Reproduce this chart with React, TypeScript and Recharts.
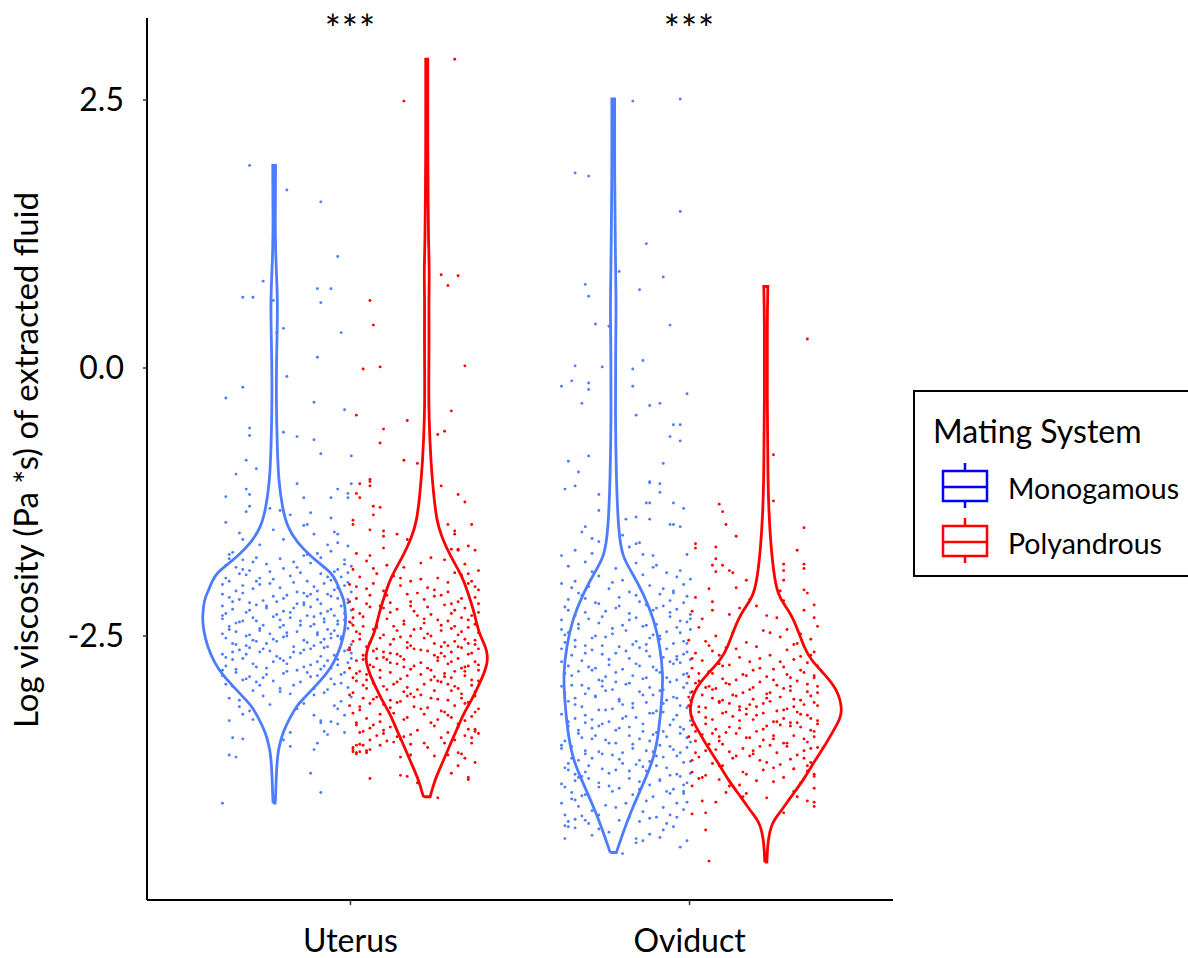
import { ComposedChart, Scatter, XAxis, YAxis, ReferenceDot } from 'recharts';

const categories = ['Uterus', 'Oviduct'];
const matingSystems = ['Monogamous', 'Polyandrous'];
const yTicks = [-2.5, 0, 2.5];
const significance = ['***', '***'];

// violin outlines: [value, half width]
const uterusMonoViolin = [
  [-4.06, 0.003], [-4.03, 0.004], [-3.72, 0.007], [-3.56, 0.012], [-3.40, 0.025], [-3.26, 0.047],
  [-3.16, 0.065], [-3.10, 0.082], [-3.00, 0.112], [-2.86, 0.153], [-2.75, 0.176], [-2.60, 0.197],
  [-2.44, 0.209], [-2.32, 0.212], [-2.16, 0.206], [-2.10, 0.197], [-1.98, 0.182], [-1.91, 0.168],
  [-1.84, 0.141], [-1.76, 0.109], [-1.63, 0.068], [-1.48, 0.038], [-1.30, 0.024], [-1.05, 0.013],
  [-0.74, 0.009], [-0.30, 0.006], [0.08, 0.007], [0.35, 0.009], [0.63, 0.010], [0.87, 0.007],
  [1.10, 0.004], [1.38, 0.003], [1.66, 0.004], [1.89, 0.004],
];
const uterusPolyViolin = [
  [-4.00, 0.010], [-3.84, 0.024], [-3.70, 0.044], [-3.54, 0.065], [-3.38, 0.088], [-3.22, 0.109],
  [-3.10, 0.132], [-3.00, 0.147], [-2.86, 0.168], [-2.75, 0.179], [-2.68, 0.179], [-2.60, 0.174],
  [-2.47, 0.153], [-2.29, 0.141], [-2.14, 0.126], [-1.98, 0.109], [-1.87, 0.091], [-1.76, 0.071],
  [-1.58, 0.044], [-1.42, 0.029], [-1.20, 0.021], [-0.89, 0.012], [-0.42, 0.006], [-0.11, 0.006],
  [0.26, 0.007], [0.63, 0.006], [0.89, 0.008], [1.19, 0.005], [1.57, 0.004], [2.03, 0.003],
  [2.50, 0.003], [2.88, 0.003],
];
const oviductMonoViolin = [
  [-4.52, 0.009], [-4.40, 0.022], [-4.15, 0.050], [-3.84, 0.094], [-3.63, 0.121], [-3.38, 0.135],
  [-3.07, 0.144], [-2.85, 0.147], [-2.60, 0.138], [-2.35, 0.121], [-2.10, 0.088], [-1.91, 0.056],
  [-1.76, 0.026], [-1.51, 0.015], [-1.04, 0.009], [-0.42, 0.006], [0.17, 0.007], [0.63, 0.009],
  [1.10, 0.006], [1.75, 0.004], [2.51, 0.004],
];
const oviductPolyViolin = [
  [-4.61, 0.003], [-4.40, 0.006], [-4.24, 0.018], [-4.15, 0.041], [-4.00, 0.074], [-3.84, 0.112],
  [-3.68, 0.141], [-3.54, 0.171], [-3.38, 0.200], [-3.28, 0.218], [-3.19, 0.226], [-3.00, 0.212],
  [-2.85, 0.171], [-2.72, 0.132], [-2.60, 0.112], [-2.44, 0.094], [-2.29, 0.074], [-2.14, 0.038],
  [-1.98, 0.026], [-1.67, 0.015], [-1.35, 0.009], [-1.04, 0.006], [-0.30, 0.004], [0.45, 0.004],
  [0.76, 0.006],
];

// jittered observations: [jitter, value]
const uterusMonoPoints = [
  [-0.11, 1.89], [0.00, 1.66], [0.10, 1.55], [0.15, 1.04], [-0.07, 0.81], [-0.13, 0.66], [-0.10, 0.66],
  [0.09, 0.74], [0.13, 0.74], [0.10, 0.61], [-0.04, 0.63], [-0.01, 0.37], [-0.03, 0.33], [0.16, 0.33],
  [0.09, 0.10], [0.00, -0.08], [-0.13, -0.18], [-0.18, -0.28], [0.08, -0.32], [0.17, -0.39],
  [-0.11, -0.56], [-0.11, -0.63], [-0.01, -0.60], [0.03, -0.64], [0.08, -0.67], [0.10, -0.80],
  [0.19, -0.82], [-0.12, -0.86], [-0.09, -0.94], [-0.15, -0.99], [-0.12, -1.13], [-0.11, -1.18],
  [-0.18, -1.20], [0.03, -1.08], [0.05, -1.21], [0.13, -1.21], [0.15, -1.13], [0.18, -1.21],
  [0.18, -1.17], [0.19, -1.08], [-0.11, -1.29], [-0.12, -1.34], [-0.18, -1.44], [-0.05, -1.31],
  [-0.02, -1.33], [0.01, -1.37], [0.07, -1.35], [0.05, -1.47], [0.06, -1.46], [0.13, -1.40],
  [0.14, -1.53], [0.15, -1.55], [-0.14, -1.54], [-0.13, -1.60], [-0.17, -1.74], [-0.04, -1.51],
  [-0.01, -1.60], [0.08, -1.55], [0.12, -1.65], [0.15, -1.63], [0.18, -1.66], [-0.08, -1.65],
  [-0.16, -1.72], [0.05, -1.75], [-0.02, -1.78], [0.13, -1.71], [-0.09, -1.77], [0.17, -1.79], [0.09, -1.73], [-0.13, -1.79],
  [0.02, -1.81], [-0.18, -1.84], [0.11, -1.86], [-0.06, -1.83], [0.15, -1.88], [-0.11, -1.89], [0.07, -1.82], [-0.01, -1.87], [0.19, -1.85], [-0.15, -1.86],
  [0.04, -1.91], [-0.12, -1.93], [0.16, -1.95], [-0.04, -1.97], [0.10, -1.92], [-0.17, -1.99], [0.01, -1.94], [0.13, -1.98], [-0.08, -1.96], [0.18, -1.91], [-0.14, -1.92], [0.06, -1.99],
  [-0.19, -2.02], [0.08, -2.04], [-0.05, -2.01], [0.14, -2.07], [-0.10, -2.06], [0.03, -2.09], [0.17, -2.03], [-0.15, -2.08], [0.11, -2.01], [-0.02, -2.05], [0.05, -2.10], [-0.13, -2.03], [0.19, -2.09],
  [0.00, -2.12], [-0.17, -2.14], [0.12, -2.11], [-0.07, -2.17], [0.15, -2.15], [-0.11, -2.19], [0.06, -2.13], [-0.03, -2.18], [0.09, -2.16], [-0.19, -2.11], [0.18, -2.19], [-0.14, -2.16], [0.03, -2.20], [0.13, -2.13],
  [-0.09, -2.21], [0.07, -2.23], [-0.16, -2.25], [0.16, -2.22], [-0.01, -2.27], [0.10, -2.29], [-0.12, -2.28], [0.02, -2.24], [0.19, -2.26], [-0.06, -2.22], [0.12, -2.27], [-0.18, -2.29], [0.05, -2.21], [-0.03, -2.30],
  [0.14, -2.31], [-0.10, -2.33], [0.04, -2.36], [-0.15, -2.38], [0.17, -2.35], [-0.04, -2.32], [0.08, -2.39], [-0.19, -2.34], [0.11, -2.37], [-0.07, -2.40], [0.01, -2.33], [0.15, -2.39], [-0.13, -2.36], [0.06, -2.31],
  [-0.02, -2.42], [0.12, -2.44], [-0.17, -2.41], [0.09, -2.47], [-0.08, -2.45], [0.18, -2.43], [-0.11, -2.49], [0.03, -2.46], [0.15, -2.50], [-0.05, -2.48], [0.07, -2.41], [-0.15, -2.46], [0.00, -2.50], [0.13, -2.48],
  [-0.18, -2.52], [0.05, -2.54], [-0.06, -2.57], [0.16, -2.53], [-0.12, -2.59], [0.10, -2.56], [-0.01, -2.51], [0.19, -2.58], [-0.09, -2.55], [0.02, -2.60], [0.13, -2.52], [-0.16, -2.57], [0.08, -2.59], [-0.04, -2.53],
  [0.11, -2.61], [-0.14, -2.63], [0.04, -2.66], [-0.03, -2.69], [0.17, -2.64], [-0.19, -2.67], [0.07, -2.62], [-0.08, -2.65], [0.14, -2.68], [-0.11, -2.61], [0.01, -2.70], [0.19, -2.66], [-0.05, -2.64],
  [-0.16, -2.72], [0.09, -2.74], [-0.02, -2.71], [0.15, -2.77], [-0.10, -2.76], [0.05, -2.79], [-0.18, -2.78], [0.12, -2.73], [-0.06, -2.80], [0.18, -2.75], [0.00, -2.76], [-0.13, -2.71],
  [0.03, -2.82], [-0.15, -2.84], [0.16, -2.86], [-0.07, -2.89], [0.10, -2.81], [-0.11, -2.88], [0.13, -2.90], [-0.01, -2.85], [-0.19, -2.87], [0.07, -2.88],
  [-0.04, -2.92], [0.14, -2.95], [-0.16, -2.97], [0.08, -2.99], [-0.09, -2.93], [0.18, -2.98], [0.02, -2.96], [-0.13, -2.91],
  [0.11, -3.03], [-0.07, -3.06], [0.16, -3.11], [-0.17, -3.08], [0.05, -3.13], [-0.02, -3.02],
  [0.06, -1.74], [-0.10, -1.81], [0.17, -1.83], [-0.05, -1.90], [0.12, -1.95], [-0.18, -1.96], [0.02, -2.00], [-0.08, -2.02],
  [0.15, -2.05], [-0.13, -2.10], [0.09, -2.08], [-0.01, -2.15], [0.18, -2.16], [-0.16, -2.18], [0.05, -2.19], [-0.06, -2.24],
  [0.13, -2.25], [-0.11, -2.26], [0.01, -2.28], [0.17, -2.29], [-0.19, -2.31], [0.08, -2.32], [-0.02, -2.35], [0.11, -2.34],
  [-0.14, -2.37], [0.19, -2.38], [0.04, -2.40], [-0.08, -2.43], [0.14, -2.45], [-0.17, -2.44], [0.00, -2.47], [0.09, -2.49],
  [-0.12, -2.50], [0.16, -2.51], [-0.03, -2.55], [0.06, -2.56], [-0.15, -2.58], [0.12, -2.60], [-0.07, -2.62], [0.18, -2.63],
  [0.02, -2.65], [-0.12, -2.67], [0.10, -2.69], [-0.18, -2.70], [0.15, -2.72], [-0.04, -2.74], [0.07, -2.77], [-0.09, -2.79],
  [0.13, -2.80], [-0.15, -2.81], [0.00, -2.83], [0.17, -2.84], [-0.06, -2.86], [0.09, -2.87], [-0.12, -2.90], [0.04, -2.93],
  [0.16, -2.94], [-0.18, -2.95], [-0.02, -2.99], [0.12, -3.00], [-0.10, -3.01], [0.08, -3.05], [-0.14, -3.10], [0.19, -3.07],
  [-0.05, -3.14], [0.03, -3.18], [0.14, -3.15], [-0.11, -3.20], [0.10, -1.77], [-0.17, -1.78], [0.03, -1.86], [-0.13, -1.88],
  [0.14, -1.90], [-0.09, -1.99], [0.18, -2.00], [0.07, -2.11], [-0.04, -2.13], [-0.19, -2.22], [0.10, -2.20], [-0.09, -2.36],
  [0.15, -2.36], [-0.01, -2.40], [-0.19, -2.48], [0.11, -2.53], [-0.10, -2.54], [0.05, -2.63], [-0.16, -2.65], [0.19, -2.71],
  [-0.01, -2.73], [0.11, -2.78], [-0.19, -2.82], [0.06, -2.84], [-0.08, -2.96], [0.01, -3.04],
  [-0.19, -4.06], [0.10, -3.96], [0.07, -3.78], [-0.17, -3.61], [-0.15, -3.63], [-0.16, -3.45], [-0.13, -3.46],
  [-0.17, -3.29], [-0.10, -3.28], [0.01, -3.53], [0.01, -3.40], [-0.01, -3.47], [0.08, -3.56], [0.09, -3.50],
  [0.11, -3.39], [0.12, -3.42], [0.10, -3.31], [0.10, -3.29], [0.13, -3.30], [0.15, -3.32], [0.17, -3.40],
  [0.08, -3.24], [0.17, -3.24], [0.15, -3.18], [-0.13, -3.23], [-0.14, -3.16],
];
const uterusPolyPoints = [
  [0.12, 2.88], [-0.03, 2.49], [0.08, 0.87], [0.13, 0.86], [0.10, 0.77], [-0.13, 0.63], [-0.12, 0.40],
  [-0.15, -0.01], [-0.10, 0.01], [0.15, 0.02], [-0.17, -0.44], [-0.02, -0.49], [0.11, -0.40], [-0.09, -0.57],
  [-0.10, -0.70], [0.07, -0.62], [0.09, -0.59], [-0.03, -0.86], [0.01, -0.89], [-0.13, -1.04], [-0.16, -1.08],
  [-0.13, -1.06], [-0.13, -1.10], [-0.17, -1.17], [-0.16, -1.21], [0.08, -1.10], [0.13, -1.18], [0.15, -1.25],
  [-0.12, -1.29], [-0.10, -1.30], [-0.12, -1.37], [-0.18, -1.42], [-0.18, -1.46], [0.10, -1.46], [0.17, -1.46],
  [-0.13, -1.51], [-0.09, -1.52], [-0.09, -1.57], [-0.05, -1.55], [0.12, -1.52], [0.12, -1.55], [-0.02, -1.60],
  [0.16, -1.66], [0.13, -1.69], [0.13, -1.70], [0.11, -1.69], [0.18, -1.70], [-0.17, -1.73], [-0.09, -1.68], [-0.13, -1.75],
  [0.05, -1.77], [-0.14, -1.80], [0.15, -1.83], [-0.03, -1.86], [0.09, -1.79], [-0.18, -1.88], [0.19, -1.89], [-0.08, -1.84],
  [0.12, -1.91], [-0.06, -1.94], [0.02, -1.97], [-0.16, -1.95], [0.17, -1.99], [-0.11, -1.92], [0.07, -1.96], [-0.01, -1.99], [0.14, -1.93],
  [-0.19, -2.02], [0.04, -2.05], [-0.09, -2.08], [0.16, -2.01], [-0.04, -2.03], [0.10, -2.09], [-0.14, -2.06], [0.19, -2.07], [0.01, -2.10], [-0.12, -2.01],
  [0.08, -2.12], [-0.17, -2.15], [0.13, -2.18], [-0.02, -2.11], [0.18, -2.14], [-0.07, -2.19], [0.03, -2.16], [-0.13, -2.12], [0.11, -2.20], [-0.19, -2.18], [0.06, -2.13],
  [-0.10, -2.22], [0.15, -2.24], [0.00, -2.27], [-0.16, -2.29], [0.09, -2.21], [-0.05, -2.25], [0.19, -2.28], [-0.13, -2.23], [0.05, -2.30], [0.12, -2.26], [-0.18, -2.25], [-0.01, -2.22],
  [0.17, -2.31], [-0.08, -2.34], [0.03, -2.38], [-0.15, -2.32], [0.10, -2.36], [-0.03, -2.39], [0.14, -2.33], [-0.19, -2.37], [0.07, -2.35], [-0.11, -2.40], [0.01, -2.31], [0.18, -2.39],
  [-0.06, -2.41], [0.11, -2.43], [-0.17, -2.46], [0.04, -2.48], [0.16, -2.42], [-0.12, -2.44], [-0.01, -2.50], [0.08, -2.45], [-0.09, -2.49], [0.19, -2.47], [-0.15, -2.41], [0.02, -2.43], [0.13, -2.49],
  [-0.04, -2.51], [0.15, -2.53], [-0.18, -2.55], [0.06, -2.57], [-0.10, -2.52], [0.10, -2.59], [-0.02, -2.56], [0.18, -2.58], [-0.14, -2.60], [0.03, -2.52], [0.12, -2.55], [-0.07, -2.58], [-0.16, -2.53], [0.08, -2.60],
  [0.00, -2.62], [-0.12, -2.64], [0.14, -2.61], [-0.05, -2.67], [0.09, -2.69], [-0.19, -2.63], [0.17, -2.66], [0.04, -2.64], [-0.09, -2.70], [0.11, -2.65], [-0.15, -2.68], [-0.02, -2.61], [0.06, -2.68], [0.19, -2.62], [-0.07, -2.66],
  [0.13, -2.71], [-0.17, -2.73], [0.02, -2.75], [-0.08, -2.72], [0.16, -2.78], [-0.03, -2.79], [0.07, -2.73], [-0.13, -2.77], [0.10, -2.76], [-0.19, -2.80], [0.18, -2.74], [-0.05, -2.76], [0.04, -2.80], [-0.11, -2.71], [0.15, -2.79],
  [-0.01, -2.81], [0.12, -2.83], [-0.14, -2.86], [0.06, -2.88], [-0.07, -2.84], [0.19, -2.82], [-0.18, -2.89], [0.09, -2.85], [-0.04, -2.90], [0.15, -2.87], [-0.10, -2.82], [0.02, -2.86], [-0.16, -2.83], [0.11, -2.89],
  [0.05, -2.91], [-0.12, -2.94], [0.17, -2.96], [-0.02, -2.98], [0.08, -2.93], [-0.17, -2.92], [0.13, -2.99], [-0.06, -2.95], [0.01, -3.00], [-0.09, -2.97], [0.19, -2.92], [-0.14, -2.99], [0.10, -2.95],
  [-0.03, -3.02], [0.14, -3.04], [-0.11, -3.07], [0.07, -3.09], [-0.18, -3.03], [0.18, -3.06], [0.02, -3.05], [-0.07, -3.10], [0.11, -3.01], [-0.15, -3.08], [0.05, -3.08], [-0.01, -3.04],
  [0.16, -3.12], [-0.09, -3.14], [0.04, -3.17], [-0.16, -3.19], [0.12, -3.15], [-0.04, -3.11], [0.19, -3.18], [-0.13, -3.13], [0.08, -3.20], [0.00, -3.16], [-0.19, -3.15],
  [-0.06, -3.22], [0.10, -3.24], [-0.14, -3.27], [0.15, -3.29], [0.03, -3.23], [-0.10, -3.30], [0.18, -3.21], [-0.02, -3.26], [0.07, -3.28], [-0.18, -3.22],
  [0.13, -3.32], [-0.07, -3.35], [0.01, -3.38], [-0.12, -3.33], [0.16, -3.37], [-0.15, -3.39], [0.06, -3.34], [0.10, -3.40],
  [-0.01, -3.42], [0.12, -3.47], [-0.10, -3.52], [0.04, -3.54], [0.17, -3.45], [-0.06, -3.49],
  [0.02, -1.82], [-0.12, -1.87], [0.16, -1.92], [-0.04, -1.96], [0.10, -2.00], [-0.17, -2.04], [0.06, -2.07], [-0.08, -2.12],
  [0.14, -2.15], [-0.01, -2.18], [0.19, -2.20], [-0.14, -2.20], [0.04, -2.23], [-0.07, -2.28], [0.11, -2.29], [-0.18, -2.33],
  [0.16, -2.35], [-0.03, -2.36], [0.08, -2.40], [-0.11, -2.42], [0.00, -2.44], [0.14, -2.46], [-0.16, -2.48], [0.05, -2.50],
  [-0.06, -2.53], [0.18, -2.54], [-0.13, -2.56], [0.09, -2.56], [-0.01, -2.59], [0.13, -2.60], [-0.19, -2.61], [0.02, -2.63],
  [-0.09, -2.65], [0.16, -2.67], [-0.04, -2.69], [0.07, -2.70], [-0.15, -2.72], [0.11, -2.74], [-0.07, -2.75], [0.19, -2.77],
  [0.00, -2.78], [-0.12, -2.79], [0.05, -2.82], [0.15, -2.83], [-0.17, -2.85], [-0.02, -2.87], [0.09, -2.88], [-0.10, -2.89],
  [0.17, -2.91], [-0.05, -2.93], [0.03, -2.95], [-0.15, -2.96], [0.12, -2.97], [-0.08, -3.00], [0.06, -3.01], [0.18, -3.02],
  [-0.19, -3.05], [0.00, -3.07], [-0.12, -3.09], [0.10, -3.10], [-0.05, -3.12], [0.15, -3.13], [-0.16, -3.16], [0.02, -3.18],
  [0.09, -3.21], [-0.10, -3.23], [0.17, -3.25], [-0.03, -3.28], [0.05, -3.31], [-0.17, -3.31], [0.13, -3.35], [-0.09, -3.38],
  [0.19, -3.41], [-0.03, -3.44], [0.08, -3.45], [-0.13, -3.47], [0.18, -2.04], [-0.09, -2.24], [0.03, -2.34], [-0.18, -2.40],
  [0.12, -2.41], [-0.05, -2.45], [0.16, -2.57], [-0.11, -2.62], [0.08, -2.66], [-0.03, -2.72], [0.14, -2.80], [-0.14, -2.91],
  [0.07, -2.92], [-0.02, -3.06], [0.14, -3.08], [-0.07, -3.17], [0.11, -3.26], [-0.13, -3.36],
  [-0.18, -3.56], [-0.18, -3.54], [-0.17, -3.52], [-0.16, -3.51], [-0.15, -3.52], [-0.18, -3.58], [-0.17, -3.59],
  [-0.16, -3.58], [-0.14, -3.57], [-0.14, -3.59], [-0.13, -3.56], [-0.17, -3.60],
  [-0.13, -3.83], [-0.04, -3.80], [-0.02, -3.81], [0.07, -4.01], [0.16, -3.82], [0.16, -3.84], [0.18, -3.68],
  [0.13, -3.71], [0.11, -3.78], [0.14, -3.60], [0.15, -3.64], [0.13, -3.59], [-0.11, -3.43], [-0.08, -3.48],
  [-0.09, -3.41], [-0.04, -3.63], [-0.01, -3.61], [-0.01, -3.51], [0.03, -3.50], [0.06, -3.62], [0.09, -3.50],
  [0.10, -3.61], [0.17, -3.50], [0.15, -3.43], [0.18, -3.37], [0.18, -3.39], [-0.16, -3.40], [-0.17, -3.33],
  [-0.05, -3.44], [-0.04, -3.46], [0.01, -3.87],
];
const oviductMonoPoints = [
  [0.02, 2.49], [0.16, 2.51], [-0.15, 1.82], [-0.11, 1.79], [0.16, 1.46], [0.06, 1.16], [-0.02, 0.90],
  [0.11, 0.85], [-0.12, 0.78], [-0.11, 0.67], [0.04, 0.73], [-0.09, 0.41], [-0.05, 0.39], [0.13, 0.40],
  [-0.15, 0.02], [-0.07, 0.01], [0.05, 0.07], [0.02, -0.01], [-0.19, -0.17], [-0.16, -0.12], [-0.11, -0.14],
  [-0.11, -0.20], [0.02, -0.17], [0.18, -0.24], [-0.13, -0.33], [0.07, -0.35], [0.10, -0.33], [0.03, -0.44],
  [0.14, -0.53], [0.16, -0.53], [0.13, -0.64], [0.16, -0.68], [-0.17, -0.87], [-0.11, -0.82], [0.11, -0.89],
  [-0.14, -0.97], [-0.15, -1.10], [-0.18, -1.13], [-0.08, -1.18], [0.07, -1.06], [0.07, -1.07], [0.10, -1.08],
  [0.10, -1.16], [0.06, -1.26], [0.07, -1.26], [0.14, -1.26], [0.17, -1.31], [-0.08, -1.33], [0.13, -1.46],
  [0.14, -1.46], [0.16, -1.48], [0.07, -1.41], [0.03, -1.39], [0.00, -1.41], [-0.12, -1.48], [-0.13, -1.53],
  [-0.10, -1.59], [-0.08, -1.62], [0.04, -1.63], [0.03, -1.64], [-0.01, -1.56], [0.01, -1.67], [-0.15, -1.70],
  [-0.10, -1.73], [-0.19, -1.75], [0.05, -1.74], [0.08, -1.75], [0.18, -1.74],
  [-0.12, -1.81], [0.09, -1.84], [-0.03, -1.87], [0.16, -1.89], [-0.17, -1.85], [0.03, -1.82],
  [0.12, -1.91], [-0.08, -1.94], [0.19, -1.97], [-0.15, -1.99], [0.05, -1.93], [-0.01, -1.98],
  [-0.19, -2.01], [0.07, -2.03], [-0.05, -2.06], [0.14, -2.08], [-0.11, -2.04], [0.01, -2.09], [0.17, -2.02], [-0.14, -2.10],
  [0.10, -2.11], [-0.02, -2.14], [-0.17, -2.16], [0.18, -2.13], [0.04, -2.18], [-0.09, -2.19], [0.13, -2.17], [-0.13, -2.12],
  [0.06, -2.21], [-0.18, -2.23], [0.15, -2.25], [-0.06, -2.27], [0.01, -2.29], [0.11, -2.22], [-0.12, -2.28], [0.19, -2.30], [-0.03, -2.24], [0.08, -2.26],
  [-0.15, -2.31], [0.03, -2.33], [0.16, -2.36], [-0.08, -2.38], [0.09, -2.39], [-0.19, -2.35], [-0.01, -2.40], [0.13, -2.32], [-0.11, -2.34], [0.18, -2.37],
  [0.05, -2.41], [-0.14, -2.43], [0.12, -2.46], [-0.04, -2.48], [0.19, -2.44], [-0.09, -2.50], [0.00, -2.45], [-0.17, -2.47], [0.08, -2.49], [0.15, -2.42],
  [-0.06, -2.51], [0.10, -2.53], [-0.18, -2.56], [0.02, -2.58], [0.17, -2.55], [-0.12, -2.59], [0.07, -2.52], [-0.02, -2.60], [0.14, -2.57], [-0.15, -2.54],
  [0.04, -2.61], [-0.10, -2.63], [0.18, -2.65], [-0.16, -2.68], [0.11, -2.70], [-0.03, -2.66], [0.06, -2.64], [-0.19, -2.62], [0.15, -2.69], [-0.07, -2.67],
  [0.01, -2.71], [0.13, -2.74], [-0.13, -2.73], [-0.05, -2.77], [0.08, -2.79], [0.19, -2.72], [-0.17, -2.78], [0.03, -2.76], [-0.09, -2.80], [0.16, -2.75],
  [-0.01, -2.81], [0.10, -2.84], [-0.14, -2.83], [0.17, -2.86], [-0.06, -2.88], [0.05, -2.90], [-0.18, -2.85], [0.12, -2.89], [-0.10, -2.82], [0.02, -2.87],
  [0.15, -2.91], [-0.03, -2.93], [-0.16, -2.96], [0.07, -2.98], [0.18, -2.94], [-0.11, -2.99], [0.00, -2.95], [-0.07, -2.92], [0.11, -3.00], [-0.19, -2.97],
  [0.04, -3.02], [-0.12, -3.04], [0.14, -3.07], [-0.02, -3.09], [0.19, -3.03], [-0.15, -3.08], [0.08, -3.05], [-0.06, -3.01], [0.12, -3.10], [-0.09, -3.06],
  [-0.17, -3.11], [0.02, -3.13], [0.16, -3.15], [-0.04, -3.18], [0.09, -3.20], [-0.13, -3.16], [0.06, -3.12], [-0.08, -3.19], [0.18, -3.17], [-0.01, -3.14],
  [0.11, -3.21], [-0.19, -3.23], [0.03, -3.26], [-0.10, -3.28], [0.15, -3.24], [-0.05, -3.30], [0.07, -3.22], [-0.15, -3.27], [0.19, -3.29], [0.00, -3.25],
  [-0.12, -3.31], [0.13, -3.33], [-0.02, -3.36], [0.05, -3.39], [-0.17, -3.34], [0.17, -3.37], [-0.07, -3.32], [0.09, -3.40], [-0.14, -3.38], [0.01, -3.35],
  [0.16, -3.41], [-0.09, -3.43], [0.04, -3.46], [-0.18, -3.48], [0.12, -3.44], [-0.03, -3.50], [0.08, -3.42], [-0.13, -3.45], [0.19, -3.49], [-0.06, -3.47],
  [0.02, -3.51], [-0.16, -3.53], [0.14, -3.56], [-0.08, -3.58], [0.10, -3.52], [-0.01, -3.59], [0.18, -3.54], [-0.12, -3.60], [0.06, -3.57], [-0.19, -3.55],
  [-0.04, -3.61], [0.11, -3.63], [-0.14, -3.66], [0.17, -3.68], [0.03, -3.70], [-0.10, -3.64], [0.07, -3.67], [-0.17, -3.69], [0.15, -3.62], [-0.02, -3.65],
  [0.09, -3.71], [-0.18, -3.73], [0.01, -3.76], [0.19, -3.78], [-0.07, -3.74], [0.13, -3.80], [-0.12, -3.77], [0.05, -3.72], [-0.15, -3.79], [-0.03, -3.75],
  [0.16, -3.81], [-0.11, -3.83], [0.04, -3.86], [-0.19, -3.88], [0.10, -3.84], [-0.05, -3.90], [0.18, -3.87], [-0.14, -3.82], [0.07, -3.89],
  [-0.08, -3.91], [0.14, -3.93], [-0.16, -3.96], [0.02, -3.98], [0.12, -3.95], [-0.02, -3.92], [-0.13, -3.99], [0.17, -3.97],
  [0.08, -1.86], [-0.10, -1.90], [0.15, -1.95], [-0.04, -2.00], [-0.16, -2.05], [0.11, -2.06], [0.03, -2.12], [-0.12, -2.15],
  [0.17, -2.19], [-0.02, -2.22], [0.09, -2.24], [-0.17, -2.26], [0.13, -2.28], [-0.07, -2.32], [0.01, -2.35], [0.19, -2.34],
  [-0.14, -2.39], [0.06, -2.40], [-0.04, -2.43], [0.16, -2.47], [-0.18, -2.49], [0.10, -2.50], [-0.10, -2.52], [0.03, -2.55],
  [0.18, -2.57], [-0.07, -2.59], [-0.15, -2.60], [0.12, -2.62], [0.00, -2.64], [-0.12, -2.66], [0.17, -2.67], [0.07, -2.69],
  [-0.05, -2.72], [-0.19, -2.74], [0.14, -2.76], [0.04, -2.78], [-0.11, -2.79], [0.09, -2.82], [-0.03, -2.84], [0.18, -2.85],
  [-0.16, -2.87], [0.06, -2.89], [-0.08, -2.91], [0.13, -2.93], [0.01, -2.94], [-0.13, -2.96], [0.17, -2.98], [-0.04, -3.00],
  [0.10, -3.01], [-0.18, -3.03], [0.05, -3.05], [-0.09, -3.07], [0.15, -3.08], [-0.02, -3.11], [0.11, -3.13], [-0.15, -3.14],
  [0.02, -3.17], [-0.06, -3.19], [0.19, -3.20], [0.08, -3.22], [-0.12, -3.24], [-0.01, -3.27], [0.14, -3.28], [-0.17, -3.30],
  [0.05, -3.32], [-0.08, -3.34], [0.16, -3.35], [-0.03, -3.38], [0.11, -3.39], [-0.14, -3.41], [0.01, -3.43], [0.18, -3.45],
  [-0.10, -3.46], [0.07, -3.48], [-0.05, -3.50], [-0.19, -3.52], [0.13, -3.53], [0.02, -3.55], [-0.12, -3.57], [0.16, -3.59],
  [-0.07, -3.60], [0.09, -3.62], [-0.16, -3.64], [0.04, -3.66], [0.19, -3.67], [-0.01, -3.69], [-0.11, -3.71], [0.12, -3.73],
  [-0.17, -3.75], [0.06, -3.76], [-0.05, -3.78], [0.15, -3.79], [-0.13, -3.81], [0.01, -3.83], [0.10, -3.85], [-0.08, -3.87],
  [0.17, -3.89], [-0.18, -3.91], [0.04, -3.93], [-0.04, -3.95], [0.13, -3.97], [-0.12, -3.98], [0.08, -4.00], [-0.15, -4.03],
  [0.15, -4.06], [-0.03, -4.10], [0.05, -4.14], [-0.13, -4.18], [0.14, -2.10], [-0.08, -2.20], [-0.19, -2.44], [0.06, -2.58],
  [0.15, -2.72], [-0.07, -2.97], [0.19, -3.10], [-0.10, -3.36], [0.08, -3.58], [-0.15, -3.85], [0.17, -3.95], [0.12, -4.25],
  [-0.08, -4.30], [0.07, -4.35],
  [-0.18, -4.39], [-0.10, -4.36], [-0.01, -4.53], [0.03, -4.43], [0.05, -4.41], [0.11, -4.31], [0.10, -4.38],
  [0.16, -4.47], [0.18, -4.41], [0.14, -4.28], [0.03, -4.39], [-0.05, -4.33], [-0.18, -4.27], [-0.17, -4.28],
  [-0.15, -4.29], [-0.17, -4.23], [-0.15, -4.21], [-0.12, -4.22], [-0.11, -4.25], [-0.18, -4.17], [-0.14, -4.09],
  [-0.08, -4.17], [-0.02, -4.22], [0.01, -4.19], [0.04, -4.23], [0.07, -4.20], [0.09, -4.19], [0.13, -4.17],
  [0.15, -4.19], [0.17, -4.12], [0.18, -4.05], [-0.19, -4.06], [-0.16, -4.02], [-0.06, -4.08], [0.06, -4.04],
  [0.11, -4.10], [-0.10, -4.13], [0.00, -4.06],
];
const oviductPolyPoints = [
  [0.16, 0.27], [0.04, 0.76], [0.06, -0.81], [0.06, -1.24], [-0.10, -1.27], [-0.09, -1.34], [-0.08, -1.46],
  [-0.05, -1.57], [0.15, -1.49], [-0.17, -1.64], [-0.17, -1.68], [-0.11, -1.67], [0.13, -1.70], [-0.12, -1.84],
  [-0.09, -1.84], [-0.11, -1.78], [0.15, -1.83], [0.15, -1.87], [0.09, -1.83], [0.09, -1.89], [-0.07, -1.89],
  [-0.06, -1.91], [-0.11, -1.90], [0.09, -1.98], [-0.02, -1.98], [-0.13, -2.06], [-0.05, -2.05], [0.08, -2.08],
  [0.15, -2.07], [0.16, -2.10], [0.09, -2.17], [0.15, -2.26], [0.18, -2.21], [0.18, -2.33], [-0.18, -2.27],
  [-0.17, -2.14], [-0.12, -2.18], [-0.15, -2.34], [-0.12, -2.26], [-0.07, -2.30], [-0.04, -2.24], [-0.01, -2.16],
  [0.01, -2.22], [0.04, -2.31], [0.07, -2.33], [0.10, -2.44],
  [-0.16, -2.42], [0.03, -2.45], [0.14, -2.48], [-0.06, -2.47], [0.19, -2.41], [-0.11, -2.50],
  [0.08, -2.51], [-0.19, -2.54], [-0.02, -2.56], [0.12, -2.58], [-0.13, -2.59], [0.17, -2.53], [0.01, -2.60],
  [-0.08, -2.61], [0.10, -2.63], [-0.17, -2.66], [0.05, -2.68], [0.18, -2.65], [-0.04, -2.70], [0.14, -2.69], [-0.12, -2.64],
  [0.02, -2.71], [-0.15, -2.73], [0.16, -2.75], [-0.07, -2.77], [0.09, -2.79], [-0.18, -2.80], [0.12, -2.72], [-0.01, -2.74], [0.19, -2.78], [-0.10, -2.76],
  [0.06, -2.81], [-0.13, -2.83], [0.15, -2.84], [-0.03, -2.86], [-0.19, -2.88], [0.11, -2.89], [0.00, -2.82], [-0.09, -2.90], [0.18, -2.87], [-0.16, -2.85], [0.04, -2.88],
  [-0.05, -2.91], [0.13, -2.92], [-0.17, -2.94], [0.07, -2.96], [0.19, -2.97], [-0.11, -2.99], [0.02, -2.93], [-0.01, -3.00], [0.16, -2.95], [-0.14, -2.98], [0.09, -2.99], [-0.08, -2.94],
  [0.11, -3.01], [-0.18, -3.02], [0.04, -3.04], [-0.06, -3.05], [0.17, -3.06], [-0.12, -3.08], [0.00, -3.09], [0.14, -3.10], [-0.03, -3.03], [0.08, -3.07], [-0.15, -3.05], [0.19, -3.03], [-0.09, -3.10],
  [0.05, -3.11], [-0.10, -3.12], [0.15, -3.14], [-0.19, -3.15], [0.01, -3.16], [0.10, -3.18], [-0.04, -3.19], [0.18, -3.12], [-0.14, -3.17], [0.07, -3.20], [-0.07, -3.13], [0.12, -3.16], [-0.01, -3.14],
  [-0.16, -3.21], [0.03, -3.22], [0.16, -3.24], [-0.06, -3.25], [0.09, -3.27], [-0.12, -3.28], [0.19, -3.29], [-0.02, -3.23], [0.13, -3.21], [-0.18, -3.26], [0.06, -3.30], [-0.09, -3.22], [0.00, -3.28],
  [0.11, -3.31], [-0.14, -3.32], [0.04, -3.34], [-0.04, -3.36], [0.17, -3.38], [-0.17, -3.39], [0.08, -3.33], [-0.08, -3.40], [0.14, -3.35], [-0.11, -3.37], [0.01, -3.39], [0.19, -3.32],
  [-0.05, -3.41], [0.12, -3.43], [-0.19, -3.44], [0.06, -3.46], [-0.10, -3.48], [0.16, -3.49], [-0.01, -3.45], [0.09, -3.50], [-0.15, -3.42], [0.03, -3.47], [0.18, -3.44],
  [-0.13, -3.51], [0.10, -3.53], [-0.03, -3.55], [0.15, -3.57], [-0.17, -3.59], [0.05, -3.52], [-0.07, -3.58], [0.19, -3.54], [0.00, -3.60], [-0.11, -3.56],
  [0.13, -3.61], [-0.16, -3.63], [0.02, -3.66], [0.17, -3.68], [-0.06, -3.64], [0.08, -3.70], [-0.12, -3.69], [-0.01, -3.62], [0.11, -3.65],
  [-0.09, -3.71], [0.06, -3.73], [0.16, -3.76], [-0.18, -3.77], [-0.02, -3.79], [0.12, -3.74], [-0.14, -3.80], [0.03, -3.75],
  [0.09, -3.82], [-0.10, -3.84], [0.14, -3.87], [-0.04, -3.89], [0.01, -3.85], [-0.16, -3.83],
  [0.05, -2.47], [-0.14, -2.55], [0.13, -2.57], [-0.05, -2.62], [0.17, -2.68], [-0.18, -2.71], [0.08, -2.74], [-0.09, -2.78],
  [0.02, -2.80], [0.14, -2.82], [-0.12, -2.85], [-0.02, -2.87], [0.18, -2.89], [0.06, -2.91], [-0.16, -2.92], [-0.07, -2.95],
  [0.11, -2.97], [0.00, -2.98], [-0.12, -3.00], [0.16, -3.02], [0.05, -3.03], [-0.05, -3.06], [-0.19, -3.07], [0.12, -3.09],
  [-0.10, -3.11], [0.03, -3.13], [0.19, -3.15], [-0.16, -3.16], [-0.02, -3.18], [0.09, -3.19], [-0.08, -3.21], [0.14, -3.23],
  [0.01, -3.24], [-0.14, -3.26], [0.17, -3.27], [-0.04, -3.29], [0.07, -3.30], [-0.18, -3.33], [0.11, -3.34], [-0.07, -3.35],
  [0.03, -3.37], [0.18, -3.39], [-0.12, -3.41], [0.06, -3.43], [-0.02, -3.45], [0.15, -3.46], [-0.17, -3.48], [0.10, -3.50],
  [-0.09, -3.51], [0.02, -3.53], [0.17, -3.55], [-0.14, -3.57], [0.07, -3.59], [-0.05, -3.62], [0.15, -3.64], [-0.18, -3.66],
  [0.04, -3.68], [-0.10, -3.71], [0.12, -3.74], [-0.03, -3.77], [0.18, -3.79], [-0.15, -3.82], [0.06, -3.86], [-0.07, -3.90],
  [0.12, -3.95], [-0.10, -2.68], [0.10, -2.86], [-0.13, -2.97], [0.04, -3.08], [-0.04, -3.16], [0.13, -3.31], [-0.10, -3.44],
  [0.00, -3.57], [0.16, -3.71],
  [-0.13, -4.60], [-0.14, -4.31], [-0.18, -4.16], [-0.14, -4.15], [0.09, -4.15], [0.18, -4.09], [0.18, -4.05],
  [0.04, -4.01], [0.16, -4.04], [0.13, -4.00], [-0.15, -4.04], [-0.11, -4.05], [-0.08, -3.96], [-0.02, -3.97],
  [-0.03, -4.00], [0.18, -3.81], [0.18, -3.92], [-0.18, -3.90],
];

const FONT = 'Lato, "Open Sans", sans-serif';
const BLUE = '#4c7cff';
const RED = '#ff0000';
const VIOLIN_DODGE = 0.225;
const POINT_DODGE = 0.1875;
const Y_MIN = -4.963;
const Y_MAX = 3.265;

const groups = [
  { cat: 1, side: -1, color: BLUE, violin: uterusMonoViolin, points: uterusMonoPoints },
  { cat: 1, side: 1, color: RED, violin: uterusPolyViolin, points: uterusPolyPoints },
  { cat: 2, side: -1, color: BLUE, violin: oviductMonoViolin, points: oviductMonoPoints },
  { cat: 2, side: 1, color: RED, violin: oviductPolyViolin, points: oviductPolyPoints },
];

// closed outline; end points are repeated so the smoothed curve keeps its corners
function outline(profile: number[][], center: number) {
  const left = profile.map(([y, w]) => ({ x: center - w, y }));
  const right = [...profile].reverse().map(([y, w]) => ({ x: center + w, y }));
  const pin = (arr: { x: number; y: number }[]) => [arr[0], arr[0], ...arr, arr[arr.length - 1], arr[arr.length - 1]];
  return [...pin(left), ...pin(right), left[0], left[0], left[0]];
}

function jitter(points: number[][], center: number) {
  return points.map(([dx, y]) => ({ x: center + dx, y }));
}

const YLabel = (props: any) => {
  const vb = props.viewBox;
  const cx = vb.x + 38;
  const cy = vb.y + vb.height / 2 + 1;
  return (
    <text x={cx} y={cy} transform={`rotate(-90 ${cx} ${cy})`} textAnchor="middle"
      fontSize={33} fontFamily={FONT} fill="#000">
      Log viscosity (Pa *s) of extracted fluid
    </text>
  );
};

const Stars = (text: string) => (props: any) => {
  const vb = props.viewBox;
  const cx = vb.x + vb.width / 2;
  return (
    <text x={cx} y={vb.y + vb.height / 2 + 25} textAnchor="middle" fontSize={38}
      fontFamily={FONT} fill="#000" letterSpacing={1}>
      {text}
    </text>
  );
};

function MatingLegend() {
  const colors = ['#0000ff', '#ff0000'];
  return (
    <svg width={275} height={190} style={{ position: 'absolute', left: 913, top: 390 }}>
      <rect x={1} y={1} width={300} height={185} fill="#fff" stroke="#000" strokeWidth={2} />
      <text x={20} y={53} fontSize={32} fontFamily={FONT} fill="#000">Mating System</text>
      {matingSystems.map((name, i) => {
        const top = 73 + i * 55;
        return (
          <g key={name} stroke={colors[i]} strokeWidth={2.5} fill="none">
            <line x1={52} x2={52} y1={top} y2={top + 8} />
            <rect x={30} y={top + 8} width={44} height={30} />
            <line x1={30} x2={74} y1={top + 24} y2={top + 24} />
            <line x1={52} x2={52} y1={top + 38} y2={top + 45} />
            <text x={95} y={top + 36} fontSize={28.5} fontFamily={FONT} fill="#000" stroke="none">{name}</text>
          </g>
        );
      })}
    </svg>
  );
}

export default function App() {
  return (
    <div style={{ position: 'absolute', left: 0, top: 0, width: 1188, height: 958, overflow: 'hidden', background: '#fff' }}>
      <ComposedChart width={1188} height={958} margin={{ top: 18, right: 295, bottom: 0, left: 0 }}>
        <XAxis
          type="number"
          dataKey="x"
          domain={[0.4, 2.6]}
          ticks={[1, 2]}
          allowDataOverflow
          height={58}
          tickFormatter={(v: number) => categories[v - 1]}
          axisLine={{ stroke: '#000', strokeWidth: 2 }}
          tickLine={{ stroke: '#333', strokeWidth: 1.5 }}
          tickSize={5}
          tickMargin={24}
          tick={{ fontSize: 32, fill: '#000', fontFamily: FONT }}
        />
        <YAxis
          type="number"
          dataKey="y"
          domain={[Y_MIN, Y_MAX]}
          ticks={yTicks}
          allowDataOverflow
          width={147}
          tickFormatter={(v: number) => v.toFixed(1)}
          axisLine={{ stroke: '#000', strokeWidth: 2 }}
          tickLine={{ stroke: '#333', strokeWidth: 1.5 }}
          tickSize={4}
          tickMargin={19}
          tick={{ fontSize: 32, fill: '#000', fontFamily: FONT }}
          label={YLabel}
        />
        {groups.map((g, i) => (
          <Scatter
            key={`pts-${i}`}
            data={jitter(g.points, g.cat + g.side * POINT_DODGE)}
            isAnimationActive={false}
            shape={(p: any) => <circle cx={p.cx} cy={p.cy} r={1.45} fill={g.color} />}
          />
        ))}
        {groups.map((g, i) => (
          <Scatter
            key={`vio-${i}`}
            data={outline(g.violin, g.cat + g.side * VIOLIN_DODGE)}
            isAnimationActive={false}
            line={{ stroke: g.color, strokeWidth: 2.8, fill: 'none' }}
            lineType="joint"
            lineJointType="basis"
            shape={() => <g />}
          />
        ))}
        {significance.map((s, i) => (
          <ReferenceDot key={`sig-${i}`} x={i + 1} y={Y_MAX} r={1} fill="none" stroke="none" label={Stars(s)} />
        ))}
      </ComposedChart>
      <MatingLegend />
    </div>
  );
}
